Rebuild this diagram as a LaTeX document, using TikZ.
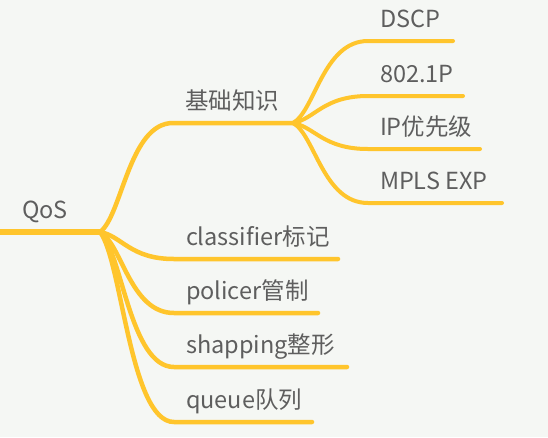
\documentclass[tikz,border=0pt]{standalone}
\usepackage{fontspec}
\setmainfont{Noto Sans CJK SC}
\usepackage{tikz}
\usetikzlibrary{calc}

\definecolor{mapbg}{HTML}{F5F7F4}
\definecolor{mapline}{HTML}{FFC52C}
\definecolor{maptext}{HTML}{5E5E5E}

\tikzset{
    topic/.style={anchor=south west, inner xsep=12pt, inner ysep=8pt, outer sep=0pt,
        text depth=6pt, text=maptext, font=\fontsize{23.5}{27}\selectfont},
    branch/.style={draw=mapline, line width=4.5pt, line cap=round},
    leaf/.style={draw=mapline, line width=4pt, line cap=round}
}

\begin{document}
\begin{tikzpicture}[x=1pt, y=-1pt]
    \fill[mapbg] (0,0) rectangle (548,437);
    \useasboundingbox (0,0) rectangle (548,437);

    \node[topic, inner xsep=22pt] (qos) at (0,232) {QoS};
    \coordinate (hub) at (100,232);

    \node[topic] (basic) at (173,123) {基础知识};
    \coordinate (basic-end) at (293,123);

    \node[topic] (dscp) at (368,41) {DSCP};
    \coordinate (dscp-end) at (453,41);
    \node[topic] (dot1p) at (368,96) {802.1P};
    \coordinate (dot1p-end) at (463,96);
    \node[topic] (ipprec) at (368,149) {IP优先级};
    \coordinate (ipprec-end) at (480,149);
    \node[topic] (mpls) at (368,203) {MPLS EXP};
    \coordinate (mpls-end) at (502,203);

    \node[topic] (classifier) at (174,259) {classifier标记};
    \coordinate (classifier-end) at (338,259);
    \node[topic] (policer) at (174,313) {policer管制};
    \coordinate (policer-end) at (318,313);
    \node[topic] (shaping) at (174,367) {shapping整形};
    \coordinate (shaping-end) at (347,367);
    \node[topic] (queue) at (174,422) {queue队列};
    \coordinate (queue-end) at (312,422);

    \draw[branch, line width=6pt] (qos.south west) -- (hub);

    \draw[branch] (hub) .. controls +(22,-16) and +(-44,0) .. (basic.south west) -- (basic-end);
    \draw[leaf] (basic-end) .. controls +(22,-12) and +(-45,0) .. (dscp.south west) -- (dscp-end);
    \draw[leaf] (basic-end) .. controls +(22,-4) and +(-45,0) .. (dot1p.south west) -- (dot1p-end);
    \draw[leaf] (basic-end) .. controls +(22,4) and +(-45,0) .. (ipprec.south west) -- (ipprec-end);
    \draw[leaf] (basic-end) .. controls +(22,12) and +(-45,0) .. (mpls.south west) -- (mpls-end);

    \draw[branch] (hub) .. controls +(22,4) and +(-44,0) .. (classifier.south west) -- (classifier-end);
    \draw[branch] (hub) .. controls +(22,12) and +(-44,0) .. (policer.south west) -- (policer-end);
    \draw[branch] (hub) .. controls +(22,20) and +(-44,0) .. (shaping.south west) -- (shaping-end);
    \draw[branch] (hub) .. controls +(22,28) and +(-44,0) .. (queue.south west) -- (queue-end);
\end{tikzpicture}
\end{document}
